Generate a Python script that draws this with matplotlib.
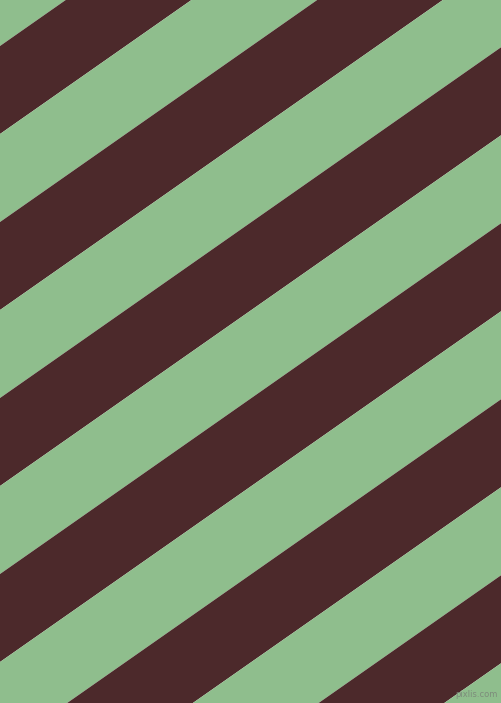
import numpy as np
import matplotlib
matplotlib.use("Agg")
import matplotlib.pyplot as plt

# stripe edges: where each boundary line meets the left edge (pixels from top)
edge_offsets = [-42, 46, 134, 222, 310, 398, 486, 574, 662, 750, 838, 926, 1014, 1102]
slope = 0.70  # boundary rises 0.70 px per px to the right
stripe_colors = ["#8fbe8d", "#4c292b"]

W, H = 502, 703

fig = plt.figure(figsize=(W / 100, H / 100), dpi=100)
ax = fig.add_axes([0, 0, 1, 1])
ax.set_xlim(0, W)
ax.set_ylim(H, 0)
ax.axis("off")

x = np.array([0, W])
for i in range(len(edge_offsets) - 1):
    top = edge_offsets[i] - slope * x
    bottom = edge_offsets[i + 1] - slope * x
    ax.fill_between(x, top, bottom, color=stripe_colors[i % 2], lw=0, antialiased=True)

ax.text(498, 699, "pixlis.com", ha="right", va="bottom", fontsize=6,
        color="#7d8c7b", family="DejaVu Sans")

fig.savefig("out.png", dpi=100)
